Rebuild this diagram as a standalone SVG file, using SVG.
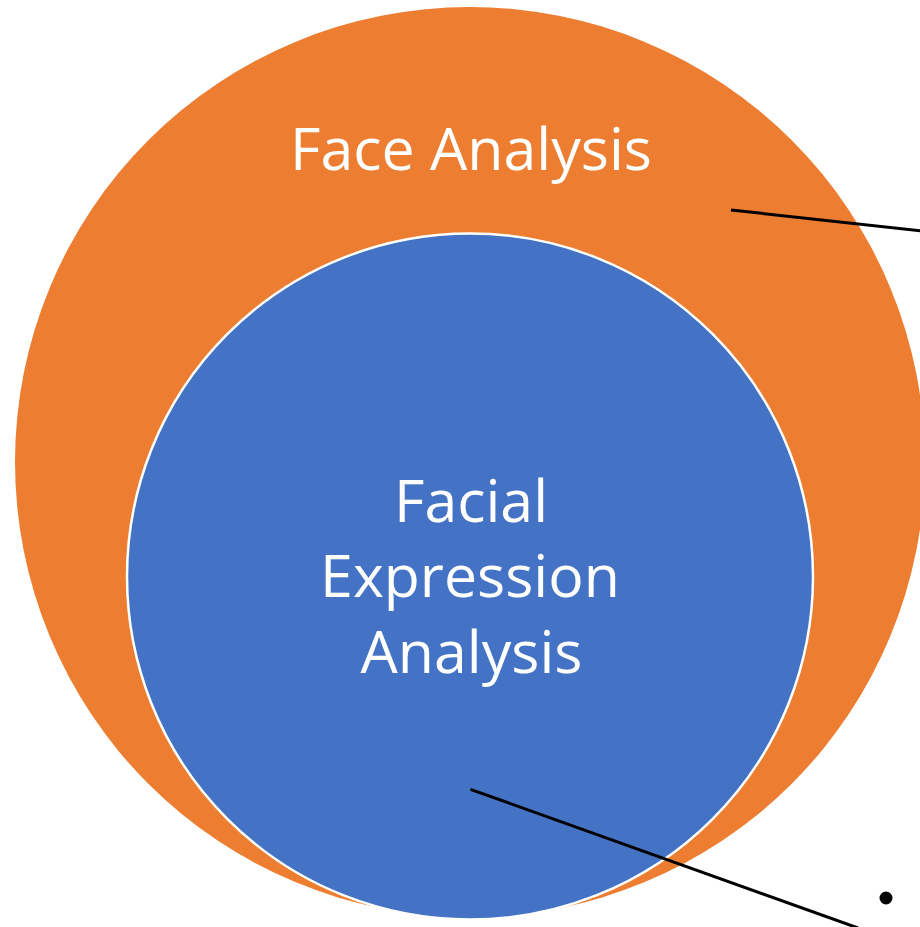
<svg xmlns="http://www.w3.org/2000/svg" width="920" height="927" viewBox="0 0 920 927">
  <style>
    .label { font-family: "Open Sans", Lato, "Liberation Sans", sans-serif; fill: #ffffff; text-anchor: middle; font-size: 59px; }
    .leader { stroke: #000000; stroke-width: 3; fill: none; }
  </style>
  <rect width="920" height="927" fill="#ffffff"/>
  <g id="face-analysis">
    <circle cx="470" cy="462" r="455" fill="#ED7D31"/>
    <text class="label" x="471" y="169.5">Face Analysis</text>
  </g>
  <g id="facial-expression-analysis">
    <circle cx="470" cy="576.5" r="343" fill="#4472C4" stroke="#ffffff" stroke-width="2.5"/>
    <text class="label" x="471" y="522">Facial</text>
    <text class="label" x="470" y="597">Expression</text>
    <text class="label" x="471.5" y="673">Analysis</text>
  </g>
  <g id="connectors">
    <line class="leader" x1="731" y1="210" x2="921" y2="230.8"/>
    <line class="leader" x1="470.5" y1="789.3" x2="858" y2="928"/>
    <circle cx="886" cy="898" r="6.5" fill="#000000"/>
  </g>
</svg>
